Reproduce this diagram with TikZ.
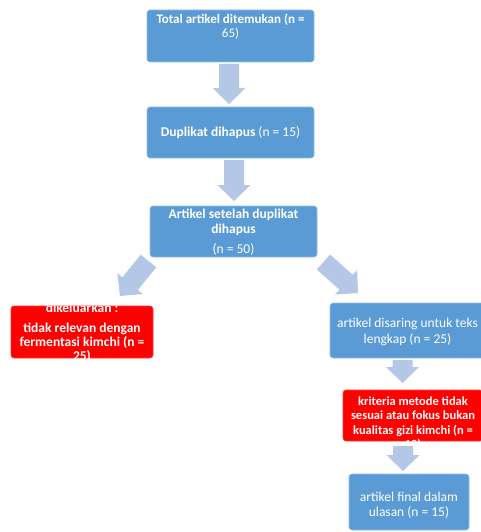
\documentclass[tikz,border=0pt]{standalone}
\usepackage{fontspec}
\setmainfont{Carlito}
\usetikzlibrary{calc}
\definecolor{boxblue}{HTML}{5B9BD5}
\definecolor{arrowblue}{HTML}{B4C7E7}
\definecolor{boxred}{HTML}{FF0000}
\tikzset{
  bluebox/.style={rounded corners=3pt, fill=boxblue, draw=boxblue!65!white, line width=0.6pt, inner sep=0pt},
  redbox/.style={rounded corners=3pt, fill=boxred, draw=boxred!80!white, line width=0.6pt, inner sep=0pt},
  txt/.style={text=white, align=center, inner sep=0pt, font=\fontsize{13.5}{15}\selectfont},
  arrowfill/.style={fill=arrowblue}
}
\newcommand\blockarrow[2]{%
  \path ($(#2)!16pt!(#1)$) coordinate (hh);
  \fill[arrowfill] ($(#1)!10pt!90:(#2)$) -- ($(hh)!10pt!90:(#2)$) -- ($(hh)!16.5pt!90:(#2)$) -- (#2)
    -- ($(hh)!16.5pt!-90:(#2)$) -- ($(hh)!10pt!-90:(#2)$) -- ($(#1)!10pt!-90:(#2)$) -- cycle;}
\begin{document}
\begin{tikzpicture}[x=1pt, y=-1pt]
\useasboundingbox (0,0) rectangle (481,532);
\clip (0,0) rectangle (481,532);
% boxes
\node[bluebox, minimum width=167pt, minimum height=52pt] (b1) at (230.5,36) {};
\node[txt, anchor=north, font=\fontsize{13}{14}\selectfont] (t1) at (230.5,13.5) {\textbf{Total artikel ditemukan (n =}\\65)};
\node[bluebox, minimum width=167pt, minimum height=51pt] (b2) at (230.5,132.5) {};
\node[txt] (t2) at (230.5,133) {\textbf{Duplikat dihapus} (n = 15)};
\node[bluebox, minimum width=167pt, minimum height=51pt] (b3) at (233.5,231.5) {};
\node[txt, anchor=north] (t3) at (233.5,208.5) {\textbf{Artikel setelah duplikat}\\\textbf{dihapus}\\[5pt](n = 50)};
\node[redbox, minimum width=142pt, minimum height=52pt] (r1) at (82,332) {};
\begin{scope}
  \clip[rounded corners=3pt] (r1.south west) rectangle (r1.north east);
  \node[txt, anchor=north, font=\fontsize{13.5}{14}\selectfont\bfseries] (t4) at (82,302.5) {dikeluarkan :\\[6pt]tidak relevan dengan\\fermentasi kimchi (n =\\25)};
\end{scope}
\node[bluebox, minimum width=155pt, minimum height=55pt] (b4) at (407.5,330.5) {};
\node[txt, anchor=north] (t5) at (407.5,317.5) {artikel disaring untuk teks\\[1pt]lengkap (n = 25)};
\node[redbox, minimum width=140pt, minimum height=51pt] (r2) at (413,415.5) {};
\begin{scope}
  \clip[rounded corners=3pt] (r2.south west) rectangle (r2.north east);
  \node[txt, anchor=north, font=\fontsize{12.5}{14.5}\selectfont\bfseries] (t6) at (413,381.5) {dikeluarkan karena tidak memenuhi\\[0.5pt]kriteria metode tidak\\sesuai atau fokus bukan\\kualitas gizi kimchi (n =\\10)};
\end{scope}
\node[bluebox, minimum width=120pt, minimum height=56pt] (b5) at (409,502) {};
\node[txt, anchor=north] (t7) at (409,491.5) {artikel final dalam\\ulasan (n = 15)};
% arrows
\coordinate (a1s) at (229,64);   \coordinate (a1e) at (229,104);
\coordinate (a2s) at (234,160);  \coordinate (a2e) at (234,201);
\coordinate (a3s) at (148.5,261); \coordinate (a3e) at (120,296);
\coordinate (a4s) at (323.5,262); \coordinate (a4e) at (358,293);
\coordinate (a5s) at (402.5,360); \coordinate (a5e) at (402.5,383);
\coordinate (a6s) at (403,446);  \coordinate (a6e) at (403,471);
\blockarrow{a1s}{a1e}
\blockarrow{a2s}{a2e}
\blockarrow{a3s}{a3e}
\blockarrow{a4s}{a4e}
\blockarrow{a5s}{a5e}
\blockarrow{a6s}{a6e}
\end{tikzpicture}
\end{document}
